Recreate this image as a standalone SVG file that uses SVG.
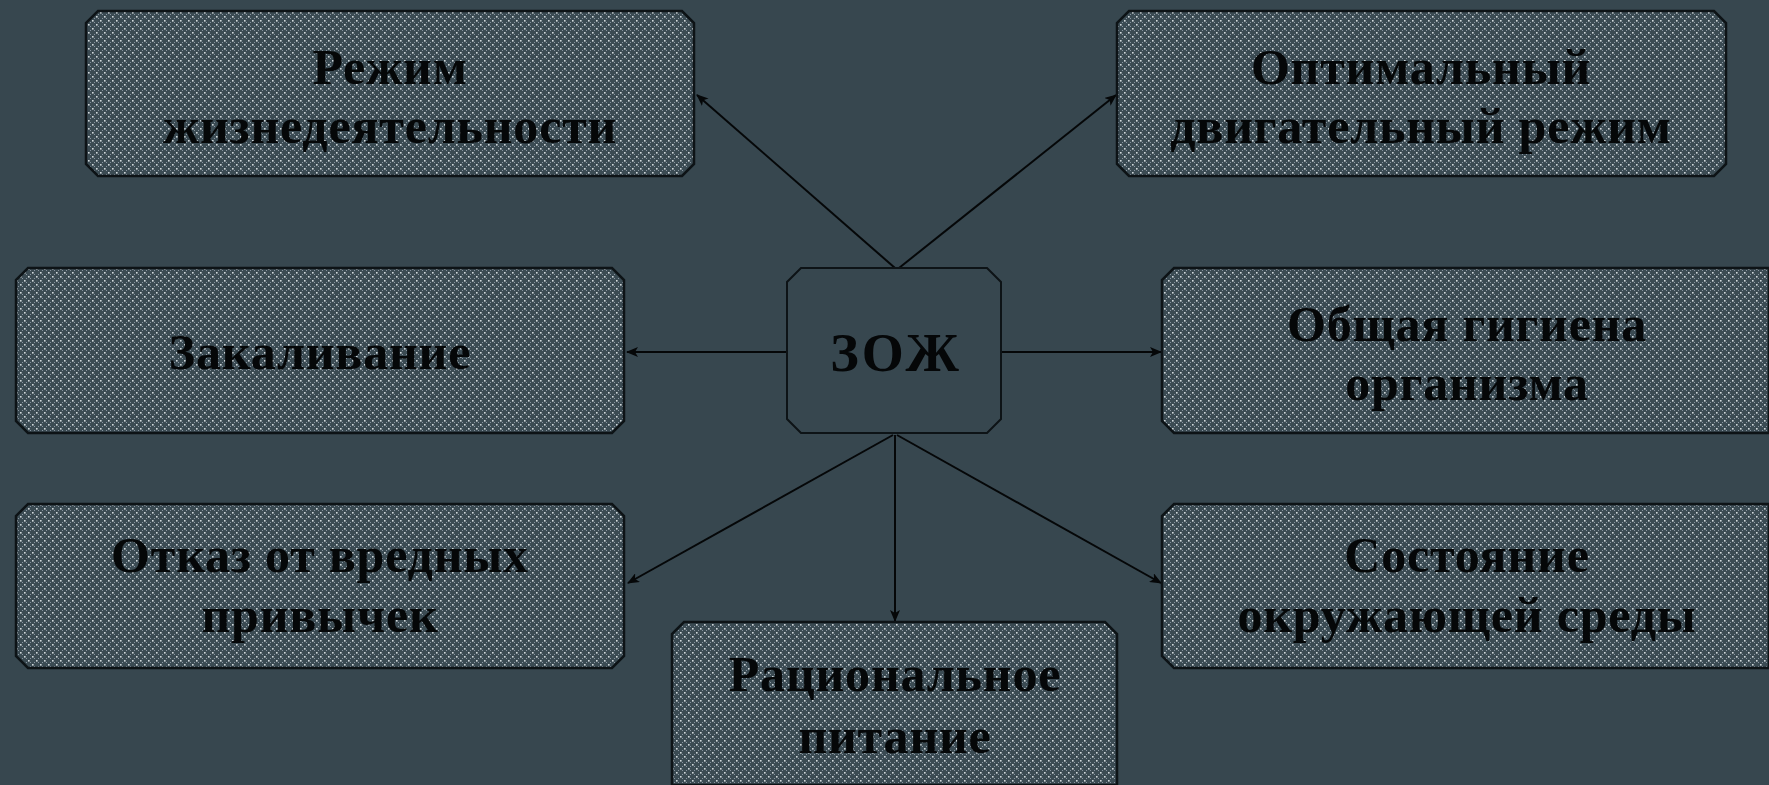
<svg xmlns="http://www.w3.org/2000/svg" width="1769" height="785" viewBox="0 0 1769 785">
<style>
.bg{fill:#37474f}
.box{fill:url(#dots);stroke:#0d1316;stroke-width:2.5}
.center{fill:#37474f;stroke:#0d1316;stroke-width:2}
.t{font-family:"Liberation Serif","DejaVu Serif",serif;font-weight:bold;font-size:50px;letter-spacing:0.8px;fill:#050708;text-anchor:middle}
.big{font-size:54px;letter-spacing:3px}
.c line{stroke:#050708;stroke-width:2;marker-end:url(#ah)}
</style>
<defs>
<pattern id="dots" width="8" height="8" patternUnits="userSpaceOnUse">
<rect width="8" height="8" fill="#3b4b53"/>
<rect x="0" y="0" width="1.6" height="1.6" fill="#d2d9dc"/>
<rect x="4" y="4" width="1.6" height="1.6" fill="#d2d9dc"/>
<rect x="2" y="2" width="1" height="1" fill="#8794a0"/>
<rect x="6" y="6" width="1" height="1" fill="#8794a0"/>
<rect x="6" y="2" width="1" height="1" fill="#8794a0"/>
<rect x="2" y="6" width="1" height="1" fill="#8794a0"/>
</pattern>
<marker id="ah" markerWidth="12" markerHeight="10" refX="11" refY="5" orient="auto" markerUnits="userSpaceOnUse">
<path d="M0,0 L12,5 L0,10 L3,5 Z" fill="#050708"/>
</marker>
</defs>
<rect class="bg" width="1769" height="785"/>
<g class="c" id="connectors">
<line x1="895" y1="268" x2="697" y2="95"/>
<line x1="899" y1="268" x2="1116" y2="95"/>
<line x1="787" y1="352" x2="627" y2="352"/>
<line x1="1001" y1="352" x2="1161" y2="352"/>
<line x1="893" y1="435" x2="628" y2="583"/>
<line x1="895" y1="435" x2="895" y2="621"/>
<line x1="897" y1="435" x2="1161" y2="583"/>
</g>
<g id="n-rezhim">
<path class="box" d="M98,11 H682 L694,23 V164 L682,176 H98 L86,164 V23 Z"/>
<text class="t" x="390" y="84">Режим</text>
<text class="t" x="390" y="143">жизнедеятельности</text>
</g>
<g id="n-optim">
<path class="box" d="M1129,11 H1714 L1726,23 V164 L1714,176 H1129 L1117,164 V23 Z"/>
<text class="t" x="1421" y="84">Оптимальный</text>
<text class="t" x="1421" y="143">двигательный режим</text>
</g>
<g id="n-zakal">
<path class="box" d="M28,268 H612 L624,280 V421 L612,433 H28 L16,421 V280 Z"/>
<text class="t" x="320" y="369">Закаливание</text>
</g>
<g id="n-zozh">
<path class="center" d="M801,268 H987 L1001,282 V419 L987,433 H801 L787,419 V282 Z"/>
<text class="t big" x="896" y="371">ЗОЖ</text>
</g>
<g id="n-gigiena">
<path class="box" d="M1174,268 H1769 V433 H1174 L1162,421 V280 Z"/>
<text class="t" x="1467" y="341">Общая гигиена</text>
<text class="t" x="1467" y="400">организма</text>
</g>
<g id="n-otkaz">
<path class="box" d="M28,504 H612 L624,516 V656 L612,668 H28 L16,656 V516 Z"/>
<text class="t" x="320" y="572">Отказ от вредных</text>
<text class="t" x="320" y="632">привычек</text>
</g>
<g id="n-racion">
<path class="box" d="M684,622 H1105 L1117,634 V785 H672 V634 Z"/>
<text class="t" x="895" y="691">Рациональное</text>
<text class="t" x="895" y="753">питание</text>
</g>
<g id="n-sostoyanie">
<path class="box" d="M1174,504 H1769 V668 H1174 L1162,656 V516 Z"/>
<text class="t" x="1467" y="572">Состояние</text>
<text class="t" x="1467" y="632">окружающей среды</text>
</g>
</svg>
